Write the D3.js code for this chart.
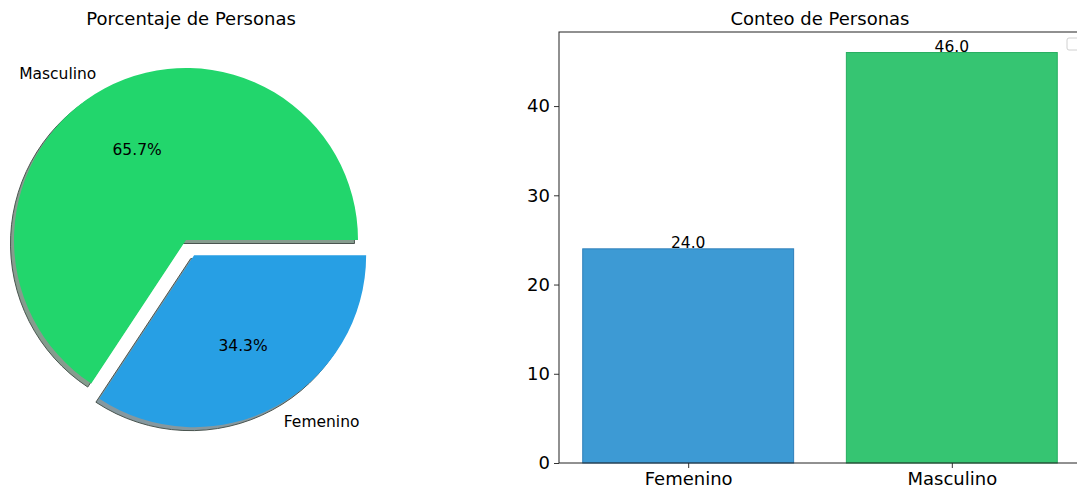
<!DOCTYPE html>
<html>
<head>
<meta charset="utf-8">
<script src="https://cdn.jsdelivr.net/npm/d3@7"></script>
<style>
  body { margin: 0; background: #fff; }
  text { font-family: "DejaVu Sans", sans-serif; fill: #000; }
</style>
</head>
<body>
<script>
// datos
var categorias = ["Femenino", "Masculino"];
var conteos = [24, 46];
var pieOrden = ["Masculino", "Femenino"];
var pieColores = { Masculino: "#22d66c", Femenino: "#279fe4" };
var barColores = ["#3d9ad4", "#36c572"];
var barBordes = ["#2e7fba", "#27ae60"];
var yTicks = [0, 10, 20, 30, 40];

var width = 1077, height = 490;
var svg = d3.select("body").append("svg").attr("width", width).attr("height", height);

// ---------- pie ----------
var total = d3.sum(conteos);
var pieData = pieOrden.map(function (n) { return { name: n, value: conteos[categorias.indexOf(n)] }; });
var r = 172;
var cx = 186, cy = 240;
var pie = d3.pie().sort(null).value(function (d) { return d.value; })
    .startAngle(Math.PI / 2).endAngle(Math.PI / 2 - 2 * Math.PI);
var arcs = pie(pieData);
var arc = d3.arc().innerRadius(0).outerRadius(r);

function offset(d) {
  var a = (d.startAngle + d.endAngle) / 2;
  var e = d.data.name == "Femenino" ? 0.1 * r : 0;
  return [Math.sin(a) * e, -Math.cos(a) * e];
}
function mid(d) { return (d.startAngle + d.endAngle) / 2; }

var pieG = svg.append("g").attr("transform", "translate(" + cx + "," + cy + ")");

// sombras
pieG.selectAll("path.shadow").data(arcs).enter().append("path")
    .attr("class", "shadow")
    .attr("d", arc)
    .attr("transform", function (d) { var o = offset(d); return "translate(" + (o[0] - 3.5) + "," + (o[1] + 3.5) + ")"; })
    .style("fill", function (d) { return d.data.name == "Femenino" ? "#85989f" : "#869c8e"; })
    .style("stroke", "#4a5550")
    .style("stroke-width", 1);

pieG.selectAll("path.wedge").data(arcs).enter().append("path")
    .attr("class", "wedge")
    .attr("d", arc)
    .attr("transform", function (d) { var o = offset(d); return "translate(" + o[0] + "," + o[1] + ")"; })
    .style("fill", function (d) { return pieColores[d.data.name]; });

pieG.selectAll("text.lbl").data(arcs).enter().append("text")
    .attr("class", "lbl")
    .attr("x", function (d) { return offset(d)[0] + Math.sin(mid(d)) * r * 1.1; })
    .attr("y", function (d) { return offset(d)[1] - Math.cos(mid(d)) * r * 1.1; })
    .attr("dy", "0.35em")
    .attr("text-anchor", function (d) { return Math.sin(mid(d)) < 0 ? "end" : "start"; })
    .style("font-size", "15.5px")
    .text(function (d) { return d.data.name; });

pieG.selectAll("text.pct").data(arcs).enter().append("text")
    .attr("class", "pct")
    .attr("x", function (d) { return offset(d)[0] + Math.sin(mid(d)) * r * 0.6; })
    .attr("y", function (d) { return offset(d)[1] - Math.cos(mid(d)) * r * 0.6; })
    .attr("dy", "0.35em")
    .attr("text-anchor", "middle")
    .style("font-size", "15.5px")
    .text(function (d) { return (d.value / total * 100).toFixed(1) + "%"; });

svg.append("text").attr("x", 191).attr("y", 25).attr("text-anchor", "middle")
    .style("font-size", "18px").text("Porcentaje de Personas");

// ---------- barras ----------
var margin = { left: 559, right: -4, top: 32, bottom: 27 };
var x = d3.scaleLinear().domain([-0.49, 1.49]).range([margin.left, width - margin.right]);
var y = d3.scaleLinear().domain([0, 48.3]).range([height - margin.bottom, margin.top]);

var chartGroup = svg.append("g");

chartGroup.append("g").selectAll("rect").data(conteos).enter().append("rect")
    .attr("x", function (d, i) { return x(i - 0.4); })
    .attr("y", function (d) { return y(d); })
    .attr("width", function (d, i) { return x(i + 0.4) - x(i - 0.4); })
    .attr("height", function (d) { return y(0) - y(d); })
    .style("fill", function (d, i) { return barColores[i]; })
    .style("stroke", function (d, i) { return barBordes[i]; })
    .style("stroke-width", 1);

chartGroup.append("g").selectAll("text").data(conteos).enter().append("text")
    .attr("x", function (d, i) { return x(i); })
    .attr("y", function (d) { return y(d) - 1; })
    .attr("text-anchor", "middle")
    .style("font-size", "15.5px")
    .text(function (d) { return d.toFixed(1); });

var yAxis = d3.axisLeft(y).tickValues(yTicks).tickSize(5).tickPadding(4);
var xAxis = d3.axisBottom(x).tickValues([0, 1]).tickSize(5).tickPadding(4)
    .tickFormat(function (d) { return categorias[d]; });

var gy = chartGroup.append("g").attr("transform", "translate(" + margin.left + ",0)").call(yAxis);
var gx = chartGroup.append("g").attr("transform", "translate(0," + y(0) + ")").call(xAxis);
[gx, gy].forEach(function (g) {
  g.selectAll("text").style("font-size", "18px").style("font-family", "DejaVu Sans");
  g.select(".domain").remove();
  g.selectAll("line").style("stroke", "#333");
});

// spines
chartGroup.append("rect")
    .attr("x", margin.left).attr("y", margin.top)
    .attr("width", x.range()[1] - margin.left).attr("height", y(0) - margin.top)
    .style("fill", "none").style("stroke", "#222").style("stroke-width", 1);

// leyenda vacia
chartGroup.append("rect").attr("x", 1067).attr("y", 38).attr("width", 14).attr("height", 12)
    .attr("rx", 2).style("fill", "#fff").style("stroke", "#d0d0d0");

svg.append("text").attr("x", (x.range()[0] + x.range()[1]) / 2).attr("y", 25).attr("text-anchor", "middle")
    .style("font-size", "18px").text("Conteo de Personas");
</script>
</body>
</html>
